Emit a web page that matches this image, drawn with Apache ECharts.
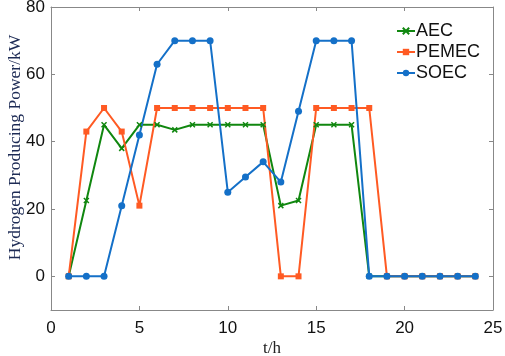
<!DOCTYPE html>
<html>
<head>
<meta charset="utf-8">
<script src="https://cdn.jsdelivr.net/npm/echarts@6/dist/echarts.min.js"></script>
<style>
  html, body { margin: 0; padding: 0; background: #fff; }
  #chart { width: 505px; height: 356px; }
</style>
</head>
<body>
<div id="chart"></div>
<script>
// hours 1..24
const hours = [1, 2, 3, 4, 5, 6, 7, 8, 9, 10, 11, 12, 13, 14, 15, 16, 17, 18, 19, 20, 21, 22, 23, 24];
const aec = [0, 22.5, 45, 38, 45, 45, 43.5, 45, 45, 45, 45, 45, 21, 22.5, 45, 45, 45, 0, 0, 0, 0, 0, 0, 0];
const pemec = [0, 43, 50, 43, 21, 50, 50, 50, 50, 50, 50, 50, 0, 0, 50, 50, 50, 50, 0, 0, 0, 0, 0, 0];
const soec = [0, 0, 0, 21, 42, 63, 70, 70, 70, 25, 29.5, 34, 28, 49, 70, 70, 70, 0, 0, 0, 0, 0, 0, 0];
const yTicks = [0, 20, 40, 60, 80];

const chart = echarts.init(document.getElementById("chart"));

const pairs = (vals) => hours.map((h, i) => [h, vals[i]]);
const crossPath = "path://M0,0L10,10M10,0L0,10";

const tickFont = { fontFamily: "Liberation Sans, Arial, sans-serif", fontSize: 17, color: "#111" };
const boxLine = { show: true, onZero: false, lineStyle: { color: "#888", width: 1 } };
const boxTick = { show: true, inside: true, length: 4, lineStyle: { color: "#888" } };

const option = {
  animation: false,
  grid: { left: 51, right: 12, top: 7, bottom: 46, containLabel: false, outerBoundsMode: "none" },
  legend: {
    right: 20,
    top: 17,
    orient: "vertical",
    itemWidth: 18,
    itemHeight: 8,
    itemGap: 3,
    textStyle: { fontFamily: "Liberation Sans, Arial, sans-serif", fontSize: 18, color: "#111", padding: [0, 0, 0, -4] },
    data: ["AEC", "PEMEC", "SOEC"]
  },
  xAxis: [
    {
      type: "value", min: 0, max: 25, interval: 5,
      name: "t/h", nameLocation: "middle", nameGap: 30, nameMoveOverlap: false,
      nameTextStyle: { fontFamily: "Liberation Serif, Times New Roman, serif", fontSize: 17, color: "#222" },
      axisLine: boxLine,
      axisTick: boxTick,
      axisLabel: Object.assign({ margin: 10 }, tickFont),
      splitLine: { show: false }
    },
    {
      type: "value", position: "top", min: 0, max: 25, interval: 5,
      axisLine: boxLine,
      axisTick: boxTick,
      axisLabel: { show: false },
      splitLine: { show: false }
    }
  ],
  yAxis: [
    {
      type: "value", min: -10, max: 80,
      name: "Hydrogen Producing Power/kW", nameLocation: "middle", nameGap: 27, nameMoveOverlap: false,
      nameTextStyle: { fontFamily: "Liberation Serif, Times New Roman, serif", fontSize: 17.5, color: "#1d2b55", padding: [0, 0, 0, 22] },
      axisLine: boxLine,
      axisTick: Object.assign({ customValues: yTicks }, boxTick),
      axisLabel: Object.assign({ margin: 6, customValues: yTicks }, tickFont),
      splitLine: { show: false }
    },
    {
      type: "value", position: "right", min: -10, max: 80,
      axisLine: boxLine,
      axisTick: Object.assign({ customValues: yTicks }, boxTick),
      axisLabel: { show: false, customValues: yTicks },
      splitLine: { show: false }
    }
  ],
  series: [
    {
      name: "AEC", type: "line", data: pairs(aec),
      symbol: crossPath, symbolSize: 5,
      itemStyle: { color: "#10870f", borderColor: "#10870f", borderWidth: 1.5 },
      lineStyle: { color: "#10870f", width: 2 }
    },
    {
      name: "PEMEC", type: "line", data: pairs(pemec),
      symbol: "rect", symbolSize: 6,
      itemStyle: { color: "#ff5a23" },
      lineStyle: { color: "#ff5a23", width: 2 }
    },
    {
      name: "SOEC", type: "line", data: pairs(soec),
      symbol: "circle", symbolSize: 7,
      itemStyle: { color: "#1470c8" },
      lineStyle: { color: "#1470c8", width: 2 }
    }
  ]
};

chart.setOption(option);
</script>
</body>
</html>
